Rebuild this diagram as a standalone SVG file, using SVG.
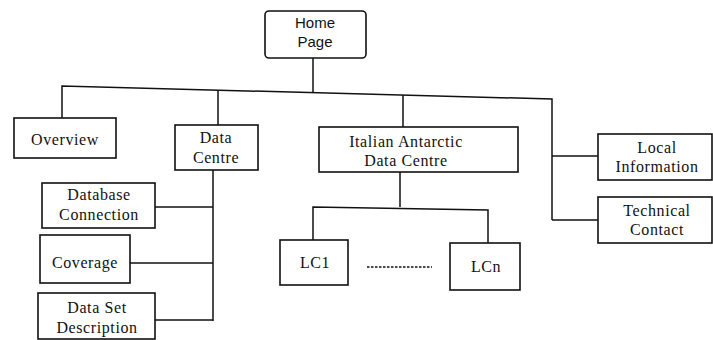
<svg xmlns="http://www.w3.org/2000/svg" width="713" height="340" viewBox="0 0 713 340">
<style>
rect{fill:#fff;stroke:#111;stroke-width:1.6}
.c path,.c line{fill:none;stroke:#111;stroke-width:1.5}
text{font-family:"Liberation Serif","Times New Roman",serif;font-size:16px;letter-spacing:0.6px;fill:#111;text-anchor:middle}
text.sans{font-family:"Liberation Sans",Arial,sans-serif;font-size:15px;letter-spacing:0}
</style>
<rect x="0" y="0" width="713" height="340" style="stroke:none"/>
<g class="c" id="connectors">
<path d="M62,118 V86 L552,99 V220"/>
<line x1="218" y1="90" x2="218" y2="125"/>
<line x1="313" y1="58" x2="313" y2="92.7"/>
<line x1="403" y1="95" x2="403" y2="127"/>
<path d="M213,170 V321"/>
<line x1="155" y1="207" x2="213" y2="207"/>
<line x1="130" y1="263" x2="213" y2="263"/>
<line x1="155" y1="320" x2="213" y2="320"/>
<path d="M400,172 V207"/>
<path d="M313,240 V207 L488,210 V243"/>
<line x1="552" y1="156" x2="598" y2="156"/>
<line x1="552" y1="220" x2="598" y2="220"/>
<line x1="367" y1="267" x2="432" y2="267" style="stroke-dasharray:2.5 1.5"/>
</g>
<g id="home"><rect x="265" y="11" width="101" height="47" rx="4"/><text class="sans" x="315" y="28">Home</text><text class="sans" x="315" y="47">Page</text></g>
<g id="overview"><rect x="14" y="118" width="102" height="40"/><text x="65" y="145">Overview</text></g>
<g id="datacentre"><rect x="175" y="125" width="83" height="45"/><text x="216" y="143">Data</text><text x="216" y="163">Centre</text></g>
<g id="dbconn"><rect x="42" y="183" width="113" height="45"/><text x="99" y="200">Database</text><text x="99" y="220">Connection</text></g>
<g id="coverage"><rect x="40" y="235" width="90" height="48"/><text x="85" y="268">Coverage</text></g>
<g id="dataset"><rect x="38" y="293" width="117" height="46"/><text x="97" y="313">Data Set</text><text x="97" y="333">Description</text></g>
<g id="italian"><rect x="319" y="127" width="199" height="45"/><text x="406" y="147">Italian Antarctic</text><text x="406" y="166">Data Centre</text></g>
<g id="lc1"><rect x="280" y="240" width="68" height="45"/><text x="315" y="268">LC1</text></g>
<g id="lcn"><rect x="450" y="243" width="70" height="47"/><text x="486" y="272">LCn</text></g>
<g id="local"><rect x="598" y="134" width="114" height="46"/><text x="657" y="153">Local</text><text x="657" y="172">Information</text></g>
<g id="technical"><rect x="598" y="197" width="114" height="46"/><text x="657" y="216">Technical</text><text x="657" y="235">Contact</text></g>
</svg>
